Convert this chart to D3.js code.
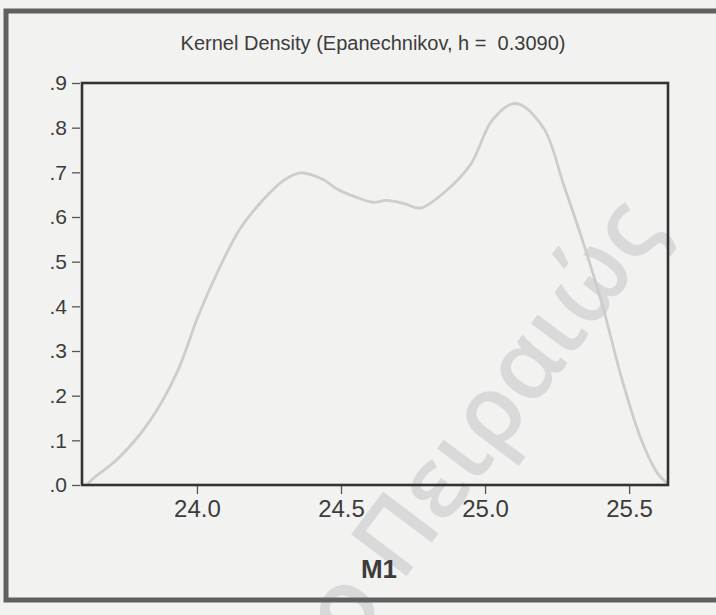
<!DOCTYPE html>
<html>
<head>
<meta charset="utf-8">
<script src="https://cdn.jsdelivr.net/npm/d3@7"></script>
<style>
  html, body { margin: 0; padding: 0; background: #f2f2f0; }
  svg { display: block; }
</style>
</head>
<body>
<svg id="chart" width="716" height="615"></svg>
<script>
// ---- data ----
const titleText = "Kernel Density (Epanechnikov, h =\u00a0 0.3090)";
const xLabel = "M1";
const xTicks = [24.0, 24.5, 25.0, 25.5];
const yTicks = [0, 0.1, 0.2, 0.3, 0.4, 0.5, 0.6, 0.7, 0.8, 0.9];
const densityX = [23.62, 23.634, 23.729, 23.836, 23.932, 24.004, 24.076, 24.147, 24.229, 24.299,
                  24.359, 24.438, 24.483, 24.55, 24.612, 24.657, 24.72, 24.775, 24.867, 24.951,
                  25.023, 25.093, 25.128, 25.207, 25.274, 25.341, 25.408, 25.475, 25.542, 25.600, 25.632];
const densityY = [0.0, 0.011, 0.061, 0.143, 0.254, 0.378, 0.483, 0.571, 0.638, 0.681,
                  0.699, 0.684, 0.664, 0.645, 0.633, 0.637, 0.630, 0.620, 0.660, 0.719,
                  0.815, 0.853, 0.850, 0.795, 0.670, 0.542, 0.401, 0.237, 0.102, 0.025, 0.004];
const watermark = "ο Πειραιώς";

// ---- layout ----
const svg = d3.select("#chart");
const W = 716, H = 615;
const plot = { left: 82, right: 668, top: 83, bottom: 485 };
const textColor = "#3c3c3c";
const font = "'Liberation Sans', Arial, sans-serif";

const x = d3.scaleLinear().domain([23.601, 25.635]).range([plot.left, plot.right]);
const y = d3.scaleLinear().domain([0, 0.9]).range([plot.bottom, plot.top]);

// background
svg.append("rect").attr("x", 0).attr("y", 0).attr("width", W).attr("height", H).attr("fill", "#f2f2f0");

// watermark
svg.append("text")
  .attr("transform", "translate(478,418) rotate(-53)")
  .attr("text-anchor", "middle")
  .attr("dominant-baseline", "central")
  .attr("font-family", "'Open Sans', 'Noto Sans', sans-serif")
  .attr("font-size", 97)
  .attr("font-weight", 600)
  .attr("fill", "#d9d9d9")
  .text(watermark);

// outer frame
svg.append("rect")
  .attr("x", 6).attr("y", 11).attr("width", 730).attr("height", 589)
  .attr("fill", "none").attr("stroke", "#606060").attr("stroke-width", 5);

// title
svg.append("text")
  .attr("x", 373).attr("y", 50)
  .attr("text-anchor", "middle")
  .attr("font-family", font).attr("font-size", 20)
  .attr("fill", textColor)
  .text(titleText);

// density curve
const pts = densityX.map((d, i) => [d, densityY[i]]);
const line = d3.line().x(d => x(d[0])).y(d => y(d[1])).curve(d3.curveCatmullRom.alpha(0.5));
svg.append("path")
  .datum(pts)
  .attr("d", line)
  .attr("fill", "none")
  .attr("stroke", "#cdcdcd")
  .attr("stroke-width", 2.8)
  .attr("stroke-linejoin", "round");

// y axis
const yAxis = d3.axisLeft(y).tickValues(yTicks).tickSize(8).tickPadding(5)
  .tickFormat(d => d3.format(".1f")(d).replace(/^0/, ""));
const gy = svg.append("g").attr("transform", `translate(${plot.left - 2},0)`).call(yAxis);
gy.select(".domain").remove();
gy.selectAll(".tick line").attr("stroke", "#555").attr("stroke-width", 1.3);
gy.selectAll(".tick text").attr("font-family", font).attr("font-size", 21).attr("fill", textColor);

// x axis
const xAxis = d3.axisBottom(x).tickValues(xTicks).tickSize(8).tickPadding(6)
  .tickFormat(d3.format(".1f"));
const gx = svg.append("g").attr("transform", `translate(0,${plot.bottom + 1})`).call(xAxis);
gx.select(".domain").remove();
gx.selectAll(".tick line").attr("stroke", "#555").attr("stroke-width", 1.3);
gx.selectAll(".tick text").attr("font-family", font).attr("font-size", 24).attr("fill", textColor);

// plot frame
svg.append("rect")
  .attr("x", plot.left).attr("y", plot.top)
  .attr("width", plot.right - plot.left).attr("height", plot.bottom - plot.top)
  .attr("fill", "none").attr("stroke", "#333").attr("stroke-width", 2.6);

// x label
svg.append("text")
  .attr("x", 379).attr("y", 578)
  .attr("text-anchor", "middle")
  .attr("font-family", font).attr("font-size", 26).attr("font-weight", "bold")
  .attr("fill", textColor)
  .text(xLabel);
</script>
</body>
</html>
